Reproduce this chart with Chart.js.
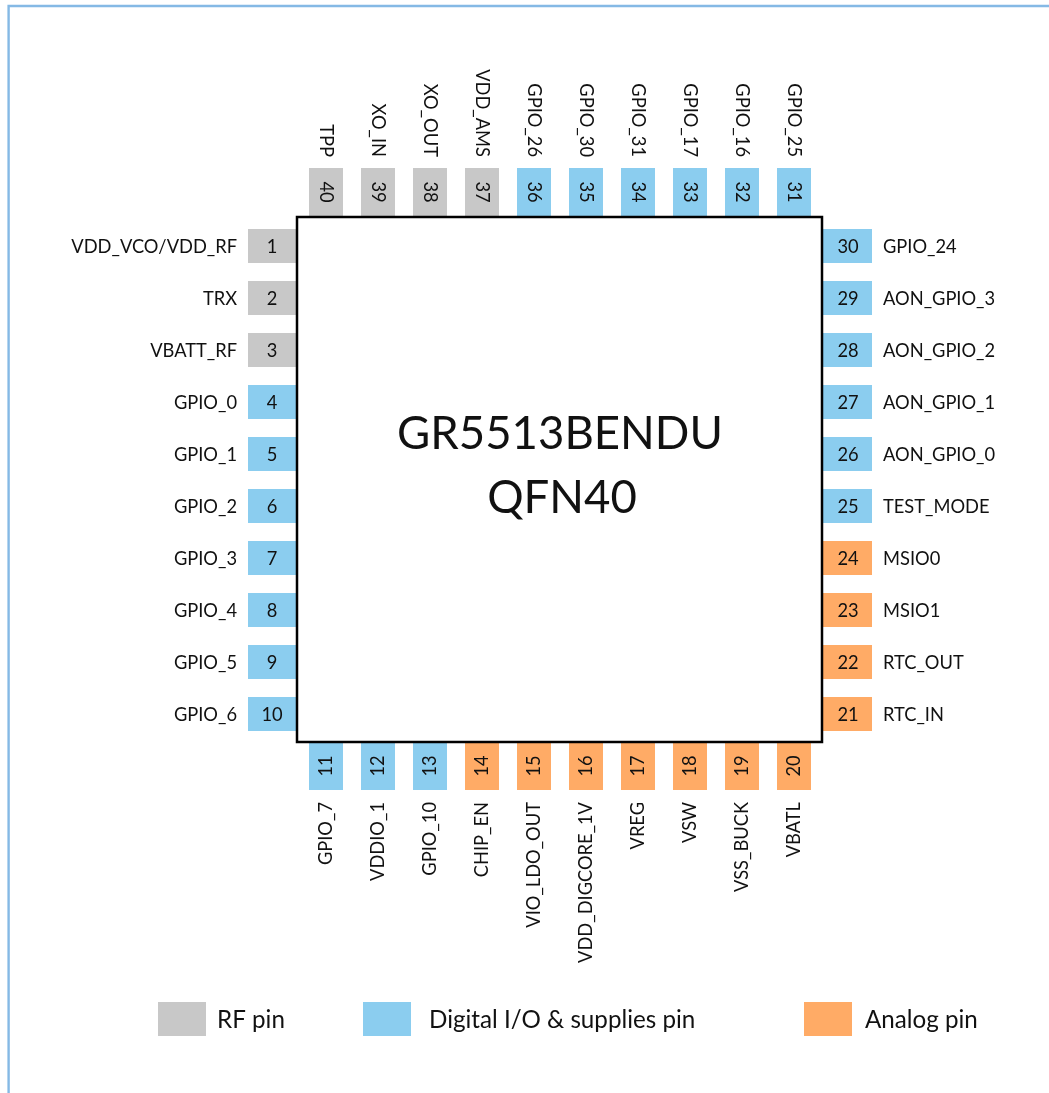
<!DOCTYPE html>
<html><head><meta charset="utf-8">
<script src="https://cdn.jsdelivr.net/npm/chart.js@4/dist/chart.umd.min.js"></script>
<style>html,body{margin:0;padding:0;background:#fff;overflow:hidden}canvas{display:block}</style>
</head><body><canvas id="c" width="1049" height="1093"></canvas>
<script>
// Pin names, listed in pin-number order along each side of the package
const leftNames  = ['VDD_VCO/VDD_RF','TRX','VBATT_RF','GPIO_0','GPIO_1','GPIO_2','GPIO_3','GPIO_4','GPIO_5','GPIO_6'];
const bottomNames= ['GPIO_7','VDDIO_1','GPIO_10','CHIP_EN','VIO_LDO_OUT','VDD_DIGCORE_1V','VREG','VSW','VSS_BUCK','VBATL'];
const rightNames = ['RTC_IN','RTC_OUT','MSIO1','MSIO0','TEST_MODE','AON_GPIO_0','AON_GPIO_1','AON_GPIO_2','AON_GPIO_3','GPIO_24'];
const topNames   = ['GPIO_25','GPIO_16','GPIO_17','GPIO_31','GPIO_30','GPIO_26','VDD_AMS','XO_OUT','XO_IN','TPP'];
// Pin class per pin: R = RF, D = digital, A = analog
const leftKinds  = ['R','R','R','D','D','D','D','D','D','D'];
const bottomKinds= ['D','D','D','A','A','A','A','A','A','A'];
const rightKinds = ['A','A','A','A','D','D','D','D','D','D'];
const topKinds   = ['D','D','D','D','D','D','R','R','R','R'];
const legendLabels = ['RF pin','Digital I/O & supplies pin','Analog pin'];
const legendKinds  = ['R','D','A'];
const chipLines = ['GR5513BENDU','QFN40'];

const COLORS = {R:'#C8C8C8', D:'#8BCDEF', A:'#FFAB66'};
const FONT = 'Lato, sans-serif';
const TEXT = '#111111';
const G = {chipL:297,chipR:822,chipT:217,chipB:742,first:246,firstX:326,pitch:52,
  pinW:34, legX:[158,363,804], legTx:[217,429,865], legY:1019, legW:48, txt:18.3};

// build marks
const segs = {R:[],D:[],A:[]};
const pins = [];
let num = 1;
leftNames.forEach((n,i)=>{const y=G.first+i*G.pitch;segs[leftKinds[i]].push({x:248,y},{x:297,y},{x:null,y:null});
  pins.push({num:num++,name:n,side:'L',px:272,py:y});});
bottomNames.forEach((n,i)=>{const x=G.firstX+i*G.pitch;segs[bottomKinds[i]].push({x,y:742},{x,y:790},{x:null,y:null});
  pins.push({num:num++,name:n,side:'B',px:x,py:766});});
rightNames.forEach((n,i)=>{const y=G.first+(9-i)*G.pitch;segs[rightKinds[i]].push({x:822,y},{x:872,y},{x:null,y:null});
  pins.push({num:num++,name:n,side:'R',px:848,py:y});});
topNames.forEach((n,i)=>{const x=G.firstX+(9-i)*G.pitch;segs[topKinds[i]].push({x,y:168},{x,y:217},{x:null,y:null});
  pins.push({num:num++,name:n,side:'T',px:x,py:192});});
legendKinds.forEach((k,i)=>{segs[k].push({x:G.legX[i],y:G.legY},{x:G.legX[i]+G.legW,y:G.legY},{x:null,y:null});});

const lineDs=(data,color,w,order)=>({type:'line',data,borderColor:color,backgroundColor:color,borderWidth:w,
  pointRadius:0,tension:0,spanGaps:false,borderCapStyle:'butt',borderJoinStyle:'miter',fill:false,order});

const labelPlugin={id:'pinLabels',afterDatasetsDraw(chart){
  const {ctx,scales:{x:sx,y:sy}}=chart;
  const put=(txt,px,py,rot,align,size)=>{ctx.save();ctx.translate(sx.getPixelForValue(px),sy.getPixelForValue(py));
    ctx.rotate(rot);ctx.textAlign=align;ctx.textBaseline='middle';ctx.fillStyle=TEXT;
    ctx.font=size+'px '+FONT;ctx.fillText(txt,0,0);ctx.restore();};
  const cw=Math.PI/2;
  pins.forEach(p=>{
    const horiz=p.side==='L'||p.side==='R';
    const rot=p.side==='T'?cw:(p.side==='B'?-cw:0);
    put(String(p.num),p.px,horiz?p.py+1:p.py,rot,'center',G.txt);
    if(p.side==='L')put(p.name,237,p.py+1,0,'right',G.txt);
    if(p.side==='R')put(p.name,883,p.py+1,0,'left',G.txt);
    if(p.side==='T')put(p.name,p.px,157,cw,'right',G.txt);
    if(p.side==='B')put(p.name,p.px,802,-cw,'right',G.txt);
  });
  put(chipLines[0],560,434,0,'center',45.5);
  put(chipLines[1],562,498,0,'center',45.5);
  legendLabels.forEach((t,i)=>put(t,G.legTx[i],G.legY+1,0,'left',24.2));
}};

new Chart(document.getElementById('c'),{
  type:'scatter',
  data:{datasets:[
    lineDs(segs.R,COLORS.R,G.pinW,2),lineDs(segs.D,COLORS.D,G.pinW,2),lineDs(segs.A,COLORS.A,G.pinW,2),
    lineDs([{x:G.chipL,y:G.chipT},{x:G.chipR,y:G.chipT},{x:G.chipR,y:G.chipB},{x:G.chipL,y:G.chipB},{x:G.chipL,y:G.chipT},{x:G.chipR,y:G.chipT}],'#000000',2.5,0),
    lineDs([{x:8.6,y:1093},{x:8.6,y:6},{x:1049,y:6}],'#85B9E5',2.4,1)
  ]},
  options:{responsive:false,animation:false,devicePixelRatio:1,
    layout:{padding:0},
    plugins:{legend:{display:false},tooltip:{enabled:false},title:{display:false}},
    scales:{x:{type:'linear',min:0,max:1049,display:false},y:{type:'linear',min:0,max:1093,reverse:true,display:false}}
  },
  plugins:[labelPlugin]
});
</script></body></html>
